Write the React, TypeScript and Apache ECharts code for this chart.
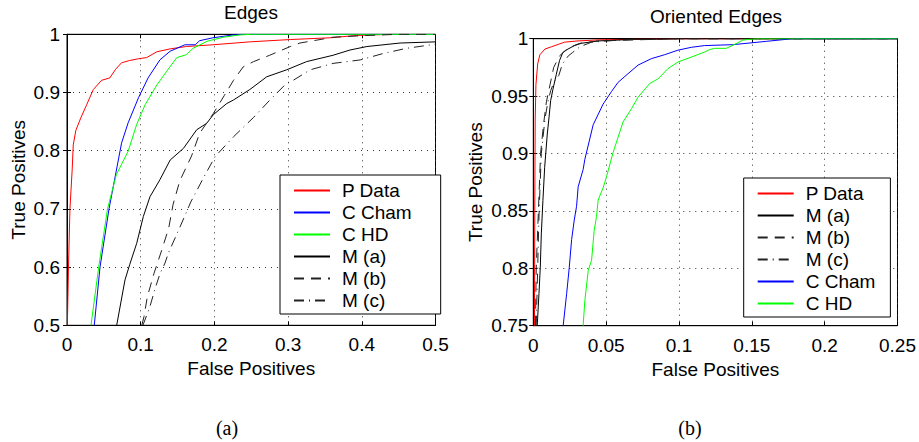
import React, { useEffect, useRef } from "react";
import * as echarts from "echarts";

// ---------- Data (a) Edges ----------
const leftPData = [[0.0005,0.5],[0.002,0.6],[0.004,0.7],[0.007,0.767],[0.0085,0.81],[0.012,0.835],[0.0186,0.856],[0.0267,0.879],[0.0357,0.905],[0.047,0.921],[0.058,0.925],[0.066,0.94],[0.074,0.951],[0.085,0.955],[0.097,0.958],[0.108,0.96],[0.122,0.97],[0.14,0.975],[0.162,0.979],[0.198,0.982],[0.248,0.987],[0.303,0.991],[0.357,0.994],[0.393,0.998],[0.44,1],[0.5,1]];
const leftCCham = [[0.037,0.5],[0.0448,0.6],[0.057,0.7],[0.065,0.753],[0.074,0.813],[0.083,0.848],[0.097,0.891],[0.11,0.925],[0.126,0.956],[0.14,0.971],[0.16,0.982],[0.174,0.982],[0.18,0.989],[0.198,0.994],[0.226,0.999],[0.24,1],[0.5,1]];
const leftCHD = [[0.0326,0.5],[0.043,0.6],[0.055,0.7],[0.067,0.759],[0.083,0.799],[0.0945,0.845],[0.106,0.879],[0.122,0.913],[0.135,0.936],[0.149,0.96],[0.162,0.965],[0.171,0.976],[0.19,0.988],[0.212,0.995],[0.235,0.999],[0.25,1],[0.5,1]];
const leftMa = [[0.0674,0.5],[0.0787,0.578],[0.085,0.604],[0.0946,0.641],[0.1036,0.687],[0.1126,0.721],[0.126,0.75],[0.14,0.784],[0.158,0.804],[0.176,0.836],[0.1895,0.847],[0.1986,0.862],[0.2167,0.881],[0.2257,0.887],[0.248,0.905],[0.271,0.927],[0.298,0.939],[0.325,0.953],[0.361,0.964],[0.384,0.973],[0.407,0.979],[0.452,0.985],[0.5,0.987]];
const leftMb = [[0.1015,0.5],[0.1045,0.515],[0.109,0.549],[0.118,0.589],[0.1285,0.629],[0.138,0.667],[0.144,0.708],[0.153,0.748],[0.169,0.791],[0.18,0.83],[0.1986,0.864],[0.2135,0.895],[0.226,0.921],[0.239,0.944],[0.253,0.953],[0.275,0.964],[0.303,0.979],[0.316,0.985],[0.339,0.99],[0.361,0.995],[0.407,0.998],[0.45,1],[0.5,1]];
const leftMc = [[0.103,0.5],[0.112,0.53],[0.12,0.565],[0.126,0.588],[0.133,0.607],[0.1375,0.624],[0.153,0.668],[0.168,0.712],[0.185,0.753],[0.201,0.79],[0.226,0.824],[0.253,0.857],[0.2745,0.886],[0.298,0.916],[0.307,0.921],[0.33,0.939],[0.361,0.95],[0.398,0.956],[0.429,0.967],[0.461,0.976],[0.5,0.983]];

// ---------- Data (b) Oriented Edges ----------
const rightPData = [[0.0008,0.75],[0.001,0.85],[0.0013,0.93],[0.0018,0.96],[0.003,0.978],[0.0045,0.986],[0.008,0.991],[0.0125,0.993],[0.017,0.995],[0.0215,0.997],[0.03,0.998],[0.045,0.999],[0.07,0.9995],[0.1,1],[0.25,1]];
const rightMa = [[0.0027,0.75],[0.0039,0.778],[0.0048,0.801],[0.0055,0.83],[0.0066,0.859],[0.0078,0.888],[0.0096,0.917],[0.0108,0.9315],[0.0119,0.946],[0.0135,0.956],[0.0158,0.969],[0.018,0.981],[0.0203,0.988],[0.0238,0.991],[0.0283,0.994],[0.033,0.996],[0.044,0.998],[0.07,0.9995],[0.1,1],[0.25,1]];
const rightMb = [[0.0015,0.75],[0.002,0.8],[0.0035,0.85],[0.005,0.9],[0.007,0.925],[0.009,0.945],[0.0115,0.96],[0.014,0.975],[0.018,0.985],[0.024,0.992],[0.032,0.996],[0.045,0.998],[0.07,0.999],[0.1,1],[0.25,1]];
const rightMc = [[0.002,0.75],[0.003,0.8],[0.004,0.85],[0.0055,0.9],[0.008,0.93],[0.01,0.945],[0.012,0.955],[0.0145,0.963],[0.0175,0.968],[0.02,0.978],[0.024,0.985],[0.027,0.988],[0.032,0.993],[0.04,0.997],[0.06,0.999],[0.1,1],[0.25,1]];
const rightCCham = [[0.0205,0.75],[0.0229,0.778],[0.0247,0.801],[0.0263,0.825],[0.0281,0.842],[0.0297,0.854],[0.0308,0.871],[0.0342,0.886],[0.0354,0.895],[0.0411,0.925],[0.0479,0.943],[0.0537,0.954],[0.0582,0.962],[0.065,0.9695],[0.0719,0.977],[0.081,0.9826],[0.09,0.986],[0.0993,0.99],[0.1085,0.9925],[0.1176,0.994],[0.137,0.9948],[0.16,0.9977],[0.178,1],[0.25,1]];
const rightCHD = [[0.0342,0.75],[0.0354,0.772],[0.0377,0.798],[0.04,0.807],[0.0418,0.833],[0.0434,0.845],[0.0445,0.8595],[0.0479,0.87],[0.0503,0.88],[0.0548,0.901],[0.0616,0.9274],[0.0674,0.939],[0.0719,0.949],[0.0799,0.961],[0.0856,0.965],[0.0925,0.974],[0.0993,0.9797],[0.1085,0.984],[0.1176,0.9884],[0.121,0.9905],[0.1245,0.9916],[0.1325,0.9916],[0.139,0.9956],[0.1438,0.9988],[0.153,1],[0.25,1]];

const leftLegend = ["P Data", "C Cham", "C HD", "M (a)", "M (b)", "M (c)"];
const rightLegend = ["P Data", "M (a)", "M (b)", "M (c)", "C Cham", "C HD"];
const titles = ["Edges", "Oriented Edges"];
const panelLabels = ["(a)", "(b)"];

const FONT = "Liberation Sans";
const FS = 19;

const styles: Record<string, { color: string; type: any }> = {
  "P Data": { color: "#ff0000", type: "solid" },
  "C Cham": { color: "#0000ff", type: "solid" },
  "C HD": { color: "#00ff00", type: "solid" },
  "M (a)": { color: "#000000", type: "solid" },
  "M (b)": { color: "#222222", type: [10, 7] },
  "M (c)": { color: "#222222", type: [10, 5, 1, 5] },
};

function mkSeries(name: string, data: number[][], idx: number) {
  const s = styles[name];
  return {
    type: "line",
    name,
    data,
    xAxisIndex: idx * 2,
    yAxisIndex: idx * 2,
    showSymbol: false,
    symbol: "none",
    lineStyle: { color: s.color, width: 1, type: s.type },
    itemStyle: { color: s.color },
    clip: true,
  };
}

const gridLine = { show: true, lineStyle: { color: "#333", width: 1, type: [1, 5] } };
const axisLineBlack = { show: true, lineStyle: { color: "#000", width: 1 } };
const tickIn = { show: true, inside: true, length: 4, lineStyle: { color: "#000" } };
const labelStyle = { color: "#000", fontFamily: FONT, fontSize: FS };

function xAxes(grid: number, max: number, interval: number, nameGap: number) {
  return [
    {
      type: "value", gridIndex: grid, min: 0, max, interval,
      name: "False Positives", nameLocation: "middle", nameGap,
      nameTextStyle: { color: "#000", fontFamily: FONT, fontSize: FS },
      axisLine: axisLineBlack, axisTick: tickIn,
      axisLabel: { ...labelStyle, margin: 10 },
      splitLine: gridLine,
    },
    {
      type: "value", gridIndex: grid, min: 0, max, interval, position: "top",
      axisLine: axisLineBlack, axisTick: tickIn, axisLabel: { show: false }, splitLine: { show: false },
    },
  ];
}

function yAxes(grid: number, min: number, interval: number, nameGap: number, labelMargin: number) {
  return [
    {
      type: "value", gridIndex: grid, min, max: 1, interval,
      name: "True Positives", nameLocation: "middle", nameGap,
      nameTextStyle: { color: "#000", fontFamily: FONT, fontSize: FS },
      axisLine: axisLineBlack, axisTick: tickIn,
      axisLabel: { ...labelStyle, margin: labelMargin },
      splitLine: gridLine,
    },
    {
      type: "value", gridIndex: grid, min, max: 1, interval, position: "right",
      axisLine: axisLineBlack, axisTick: tickIn, axisLabel: { show: false }, splitLine: { show: false },
    },
  ];
}

function legendCfg(data: string[], left: number, top: number, padRight: number) {
  return {
    data,
    orient: "vertical",
    left,
    top,
    itemWidth: 36,
    itemHeight: 14,
    itemGap: 3,
    padding: [6, padRight, 4, 13],
    backgroundColor: "#fff",
    borderColor: "#000",
    borderWidth: 1,
    borderRadius: 0,
    selectedMode: false,
    itemStyle: { opacity: 0 },
    textStyle: { color: "#000", fontFamily: FONT, fontSize: FS, lineHeight: 17.5, padding: [0, 0, 0, 7] },
  };
}

export default function App() {
  const ref = useRef<HTMLDivElement>(null);
  useEffect(() => {
    if (!ref.current) return;
    const chart = echarts.init(ref.current, null, { renderer: "svg" });
    const option: any = {
      animation: false,
      backgroundColor: "#fff",
      title: [
        { text: titles[0], left: 251, top: 3, textAlign: "center", padding: 0,
          textStyle: { color: "#000", fontFamily: FONT, fontSize: FS, fontWeight: "normal" } },
        { text: titles[1], left: 716, top: 7, textAlign: "center", padding: 0,
          textStyle: { color: "#000", fontFamily: FONT, fontSize: FS, fontWeight: "normal" } },
      ],
      grid: [
        { left: 67, top: 34.3, width: 368.5, height: 291, show: true, borderColor: "#000", borderWidth: 1, backgroundColor: "transparent" },
        { left: 533.3, top: 38.7, width: 364.5, height: 287, show: true, borderColor: "#000", borderWidth: 1, backgroundColor: "transparent" },
      ],
      xAxis: [...xAxes(0, 0.5, 0.1, 30), ...xAxes(1, 0.25, 0.05, 30)],
      yAxis: [...yAxes(0, 0.5, 0.1, 39, 7), ...yAxes(1, 0.75, 0.05, 48, 5)],
      legend: [legendCfg(leftLegend, 280, 175, 29), legendCfg(rightLegend, 743.7, 178, 15)],
      graphic: [
        { type: "text", x: 227, y: 428, style: { text: panelLabels[0], font: '20px "Liberation Serif"', fill: "#000", align: "center", verticalAlign: "middle" } },
        { type: "text", x: 690, y: 428, style: { text: panelLabels[1], font: '20px "Liberation Serif"', fill: "#000", align: "center", verticalAlign: "middle" } },
      ],
      series: [
        mkSeries("P Data", leftPData, 0),
        mkSeries("C Cham", leftCCham, 0),
        mkSeries("C HD", leftCHD, 0),
        mkSeries("M (a)", leftMa, 0),
        mkSeries("M (b)", leftMb, 0),
        mkSeries("M (c)", leftMc, 0),
        mkSeries("P Data", rightPData, 1),
        mkSeries("M (a)", rightMa, 1),
        mkSeries("M (b)", rightMb, 1),
        mkSeries("M (c)", rightMc, 1),
        mkSeries("C Cham", rightCCham, 1),
        mkSeries("C HD", rightCHD, 1),
      ],
    };
    chart.setOption(option);
    return () => chart.dispose();
  }, []);
  return (
    <div
      ref={ref}
      style={{ position: "fixed", left: 0, top: 0, width: 919, height: 442, background: "#fff" }}
    />
  );
}
